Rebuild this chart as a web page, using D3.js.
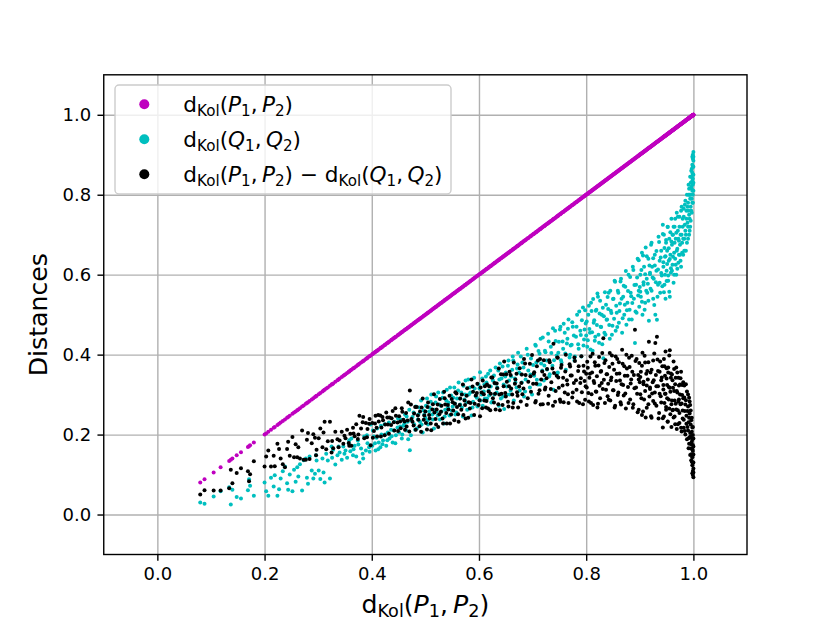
<!DOCTYPE html>
<html lang="en">
<head>
<meta charset="UTF-8">
<title>Distances</title>
<script src="https://d3js.org/d3.v7.min.js"></script>
<style>
body{ margin:0; background:#fff; }
svg text{ font-family:"DejaVu Sans", sans-serif; fill:#000; }
.axis path{ display:none; }
.axis line{ stroke:#000; stroke-width:1.4; }
.axis text{ font-size:18px; font-family:"DejaVu Sans", sans-serif; }
.grid line{ stroke:#b0b0b0; stroke-width:1.4; }
.grid path{ display:none; }
</style>
</head>
<body>
<script>
// x values: d_Kol(P1,P2) (the magenta series lies on y = x, so its y values are the same list)
var dKolP = [
  0.080,0.088,0.105,0.118,0.134,0.137,0.140,0.148,0.156,0.169,0.173,0.171,0.180,
  0.200,0.203,0.207,0.212,0.217,0.224,0.227,0.230,0.234,0.238,0.242,0.247,
  0.252,0.255,0.258,0.263,0.266,0.270,0.273,0.277,0.281,0.284,0.288,0.291,0.294,0.297,
  0.301,0.304,0.308,0.312,0.315,0.318,0.322,0.325,0.328,0.332,0.336,0.340,0.344,0.347,
  0.351,0.354,0.357,0.360,0.362,0.365,0.368,0.371,0.374,0.377,0.380,0.383,0.386,0.389,0.392,0.395,0.398,
  0.401,0.404,0.407,0.410,0.413,0.416,0.418,0.421,0.424,0.427,0.430,0.433,0.436,0.439,0.442,0.445,0.448,
  0.451,0.454,0.456,0.459,0.462,0.464,0.467,0.470,0.471,0.473,0.476,0.479,0.482,0.484,0.487,0.490,0.492,0.495,0.497,
  0.500,0.503,0.505,0.508,0.511,0.513,0.516,0.519,0.521,0.524,0.527,0.529,0.532,0.535,0.537,0.540,0.543,0.545,0.548,
  0.551,0.554,0.556,0.559,0.562,0.565,0.567,0.570,0.573,0.575,0.578,0.581,0.583,0.586,0.589,0.591,0.594,0.597,0.599,
  0.602,0.605,0.607,0.610,0.613,0.615,0.618,0.621,0.623,0.626,0.629,0.631,0.634,0.637,0.639,0.642,0.645,0.647,0.650,0.652,
  0.655,0.657,0.660,0.663,0.665,0.668,0.671,0.673,0.676,0.679,0.681,0.684,0.687,0.689,0.692,0.695,0.697,0.699,
  0.702,0.705,0.707,0.710,0.713,0.715,0.718,0.721,0.723,0.726,0.729,0.731,0.734,0.737,0.739,0.742,0.745,0.747,0.749,
  0.752,0.754,0.757,0.760,0.762,0.765,0.767,0.770,0.773,0.775,0.778,0.781,0.783,0.786,0.789,0.791,0.794,0.796,0.799,
  0.802,0.804,0.807,0.809,0.812,0.814,0.817,0.819,0.822,0.824,0.827,0.829,0.832,0.834,0.837,0.839,0.842,0.844,0.846,0.849,
  0.851,0.853,0.855,0.857,0.859,0.861,0.863,0.865,0.867,0.869,0.871,0.873,0.875,0.877,0.879,0.881,0.883,0.885,0.887,0.889,0.891,0.893,0.894,0.896,0.898,0.899,
  0.901,0.902,0.904,0.905,0.907,0.908,0.910,0.911,0.913,0.914,0.916,0.917,0.919,0.920,0.922,0.923,0.925,0.926,0.928,0.929,0.931,0.932,0.934,0.935,0.937,0.938,0.940,0.941,0.943,0.944,0.945,0.946,0.947,0.948,0.949,
  0.950,0.951,0.952,0.953,0.954,0.955,0.956,0.957,0.958,0.959,0.960,0.961,0.962,0.963,0.964,0.965,0.966,0.967,0.968,0.969,0.970,0.971,0.972,0.973,0.974,0.975,0.976,0.977,0.978,0.979,
  0.980,0.981,0.982,0.983,0.984,0.985,0.986,0.987,0.988,0.989,0.990,0.990,0.991,0.992,0.993,0.993,0.994,0.995,0.995,0.996,0.996,0.997,0.997,0.998,0.998,0.998,0.999,0.999,0.999,1.000,1.000,0.999,1.000,
  // second pass over the denser part of the cloud
  0.219,0.244,0.261,0.279,0.296,0.310,0.326,0.338,0.349,0.358,0.366,0.375,0.384,0.391,0.396,
  0.402,0.406,0.409,0.412,0.417,0.420,0.425,0.429,0.432,0.437,0.441,0.444,0.449,0.453,0.457,0.461,0.465,0.468,0.474,0.478,0.481,0.486,0.489,0.493,0.498,
  0.501,0.504,0.507,0.510,0.514,0.517,0.520,0.523,0.526,0.530,0.533,0.536,0.539,0.542,0.546,0.549,0.552,0.555,0.558,0.561,0.564,0.568,0.571,0.574,0.577,0.580,0.584,0.588,0.592,0.596,
  0.601,0.603,0.606,0.609,0.611,0.614,0.617,0.619,0.622,0.625,0.628,0.630,0.633,0.636,0.638,0.641,0.644,0.646,0.649,0.651,0.654,0.656,0.659,0.662,0.664,0.667,0.670,0.672,0.675,0.678,0.680,0.683,0.686,0.691,0.696,
  0.701,0.703,0.706,0.708,0.711,0.714,0.716,0.719,0.722,0.724,0.727,0.730,0.732,0.735,0.738,0.740,0.743,0.746,0.748,0.751,0.753,0.756,0.758,0.761,0.764,0.766,0.769,0.771,0.774,0.777,0.779,0.782,0.785,0.787,0.790,0.792,0.795,0.797,0.798,0.800,
  0.801,0.803,0.805,0.806,0.808,0.810,0.811,0.813,0.815,0.816,0.818,0.820,0.821,0.823,0.825,0.826,0.828,0.830,0.831,0.833,0.835,0.836,0.838,0.840,0.841,0.843,0.845,0.847,0.848,0.850,0.852,0.854,0.856,0.858,0.860,0.862,0.864,0.866,0.868,0.870,0.872,0.874,0.876,0.878,0.880,0.882,0.884,0.886,0.888,0.890,0.892,0.895,0.897,0.898,0.900,
  0.901,0.903,0.904,0.906,0.907,0.909,0.910,0.912,0.913,0.915,0.916,0.918,0.919,0.921,0.922,0.924,0.925,0.927,0.928,0.930,0.931,0.933,0.934,0.936,0.937,0.939,0.940,0.942,0.943,0.944,0.945,0.946,0.947,0.948,0.949,0.950,0.951,0.952,0.953,0.954,0.955,0.956,0.957,0.958,0.959,
  0.960,0.961,0.962,0.963,0.964,0.965,0.966,0.967,0.968,0.969,0.970,0.971,0.972,0.973,0.974,0.975,0.976,0.977,0.978,0.979,0.980,0.981,0.982,0.983,0.984,0.985,0.986,0.987,0.988,0.989,0.990,
  0.991,0.991,0.992,0.992,0.993,0.994,0.994,0.995,0.995,0.996,0.996,0.997,0.997,0.998,0.998,0.998,0.999,0.999,0.999,1.000,1.000,1.000,1.000,0.999
];

// cyan: d_Kol(Q1,Q2)
var dKolQ = [
  0.030,0.027,0.045,0.058,0.068,0.025,0.062,0.044,0.040,0.061,0.072,0.088,0.047,
  0.080,0.058,0.047,0.092,0.070,0.047,0.063,0.090,0.108,0.120,0.078,0.100,
  0.058,0.112,0.082,0.095,0.126,0.060,0.136,0.140,0.077,0.145,0.110,0.090,0.102,0.135,
  0.110,0.089,0.140,0.080,0.152,0.135,0.090,0.170,0.162,0.125,0.148,0.155,0.137,0.170,
  0.160,0.142,0.178,0.158,0.190,0.148,0.172,0.145,0.185,0.130,0.165,0.152,0.195,0.160,0.178,0.168,0.225,
  0.172,0.195,0.160,0.215,0.180,0.168,0.200,0.185,0.226,0.172,0.205,0.190,0.212,0.180,0.232,0.198,0.218,
  0.205,0.238,0.190,0.222,0.250,0.210,0.232,0.262,0.161,0.198,0.244,0.226,0.270,0.215,0.250,0.232,0.285,0.205,0.260,
  0.242,0.290,0.225,0.268,0.300,0.250,0.215,0.280,0.258,0.305,0.238,0.272,0.292,0.228,0.262,0.312,0.280,0.248,0.298,
  0.270,0.318,0.250,0.290,0.330,0.275,0.305,0.245,0.288,0.335,0.262,0.300,0.318,0.248,0.282,0.342,0.296,0.270,0.325,
  0.356,0.300,0.272,0.325,0.345,0.290,0.310,0.360,0.280,0.335,0.300,0.368,0.318,0.272,0.378,0.340,0.295,0.264,0.355,0.320,
  0.385,0.300,0.345,0.395,0.285,0.330,0.365,0.405,0.310,0.350,0.380,0.295,0.338,0.415,0.360,0.318,0.390,0.300,
  0.350,0.425,0.380,0.325,0.402,0.440,0.360,0.335,0.410,0.385,0.452,0.345,0.420,0.372,0.312,0.460,0.398,0.355,0.432,
  0.470,0.380,0.415,0.455,0.362,0.440,0.488,0.400,0.425,0.470,0.385,0.445,0.500,0.415,0.460,0.395,0.518,0.438,0.478,
  0.420,0.500,0.455,0.530,0.410,0.480,0.445,0.512,0.545,0.430,0.470,0.500,0.391,0.455,0.525,0.488,0.555,0.440,0.510,0.472,
  0.540,0.585,0.460,0.505,0.560,0.480,0.528,0.590,0.455,0.545,0.500,0.570,0.475,0.530,0.600,0.512,0.555,0.488,0.620,0.540,0.429,0.575,0.505,0.640,0.560,0.520,
  0.600,0.545,0.655,0.500,0.575,0.620,0.530,0.668,0.590,0.555,0.640,0.485,0.605,0.565,0.680,0.620,0.540,0.590,0.650,0.500,0.610,0.487,0.575,0.695,0.635,0.555,0.660,0.598,0.725,0.620,0.700,0.575,0.645,0.540,0.680,
  0.610,0.660,0.720,0.585,0.635,0.690,0.545,0.650,0.605,0.740,0.675,0.625,0.700,0.580,0.655,0.720,0.640,0.690,0.600,0.755,0.665,0.710,0.630,0.685,0.745,0.650,0.700,0.620,0.770,0.680,
  0.720,0.650,0.745,0.690,0.775,0.710,0.660,0.760,0.800,0.730,0.690,0.780,0.825,0.750,0.710,0.800,0.845,0.770,0.735,0.820,0.860,0.790,0.755,0.875,0.835,0.810,0.890,0.850,0.780,0.907,0.870,0.900,0.830,
  // second pass
  0.098,0.062,0.118,0.092,0.148,0.105,0.142,0.170,0.152,0.186,0.163,0.175,0.140,0.198,0.157,
  0.210,0.178,0.192,0.163,0.222,0.176,0.200,0.186,0.230,0.196,0.210,0.178,0.240,0.220,0.200,0.228,0.245,0.188,0.235,0.255,0.212,0.238,0.268,0.225,0.250,
  0.272,0.235,0.258,0.282,0.238,0.262,0.295,0.248,0.275,0.258,0.305,0.245,0.285,0.268,0.318,0.260,0.292,0.278,0.255,0.310,0.290,0.268,0.322,0.300,0.280,0.338,0.305,0.268,0.315,0.292,
  0.315,0.285,0.340,0.308,0.290,0.330,0.352,0.298,0.320,0.282,0.348,0.328,0.305,0.360,0.338,0.290,0.370,0.325,0.345,0.300,0.372,0.335,0.310,0.362,0.385,0.340,0.318,0.375,0.355,0.395,0.330,0.368,0.308,0.400,0.350,
  0.374,0.347,0.422,0.337,0.409,0.325,0.378,0.443,0.373,0.406,0.363,0.433,0.351,0.404,0.466,0.386,0.434,0.353,0.405,0.463,0.386,0.433,0.477,0.403,0.428,0.465,0.393,0.423,0.481,0.448,0.395,0.470,0.426,0.508,0.449,0.486,0.423,0.463,0.511,0.448,
  0.483,0.436,0.522,0.464,0.413,0.509,0.456,0.539,0.486,0.435,0.510,0.474,0.553,0.450,0.503,0.535,0.469,0.426,0.517,0.496,0.556,0.450,0.487,0.544,0.514,0.474,0.560,0.504,0.450,0.539,0.490,0.582,0.522,0.469,0.555,0.509,0.583,0.540,0.491,0.572,0.525,0.609,0.511,0.559,0.488,0.594,0.546,0.529,0.612,0.574,0.508,0.593,0.548,0.636,0.569,
  0.557,0.612,0.532,0.648,0.581,0.512,0.601,0.560,0.646,0.577,0.535,0.623,0.601,0.675,0.560,0.593,0.641,0.524,0.623,0.581,0.659,0.545,0.613,0.682,0.580,0.643,0.604,0.571,0.702,0.631,0.556,0.667,0.600,0.646,0.687,0.584,0.627,0.719,0.598,0.666,0.557,0.639,0.706,0.616,0.683,
  0.610,0.700,0.645,0.720,0.600,0.680,0.740,0.625,0.705,0.660,0.615,0.745,0.690,0.650,0.720,0.675,0.635,0.760,0.700,0.655,0.740,0.690,0.765,0.660,0.725,0.785,0.700,0.740,0.680,0.770,0.720,
  0.800,0.760,0.700,0.815,0.740,0.790,0.720,0.830,0.800,0.760,0.845,0.815,0.865,0.780,0.855,0.895,0.825,0.870,0.800,0.885,0.850,0.895,0.810,0.840
];

// black: d_Kol(P1,P2) - d_Kol(Q1,Q2)
var dKolDiff = [
  0.050,0.061,0.060,0.060,0.066,0.112,0.078,0.104,0.116,0.108,0.101,0.083,0.133,
  0.120,0.145,0.160,0.120,0.147,0.177,0.164,0.140,0.126,0.118,0.164,0.147,
  0.194,0.143,0.176,0.168,0.140,0.210,0.137,0.137,0.204,0.139,0.178,0.201,0.192,0.162,
  0.191,0.215,0.168,0.232,0.163,0.183,0.232,0.155,0.166,0.207,0.188,0.185,0.207,0.177,
  0.191,0.212,0.179,0.202,0.172,0.217,0.196,0.226,0.189,0.247,0.215,0.231,0.191,0.229,0.214,0.227,0.173,
  0.229,0.209,0.247,0.195,0.233,0.248,0.218,0.236,0.198,0.255,0.225,0.243,0.224,0.259,0.210,0.247,0.230,
  0.246,0.216,0.266,0.237,0.212,0.254,0.235,0.208,0.310,0.275,0.232,0.253,0.212,0.269,0.237,0.258,0.207,0.290,0.237,
  0.258,0.213,0.280,0.240,0.211,0.263,0.301,0.239,0.263,0.219,0.289,0.257,0.240,0.307,0.275,0.228,0.263,0.297,0.250,
  0.281,0.236,0.306,0.269,0.232,0.290,0.262,0.325,0.285,0.240,0.316,0.281,0.265,0.338,0.307,0.249,0.298,0.327,0.274,
  0.246,0.305,0.335,0.285,0.268,0.325,0.308,0.261,0.343,0.291,0.329,0.263,0.316,0.365,0.261,0.302,0.350,0.383,0.295,0.332,
  0.270,0.357,0.315,0.268,0.380,0.338,0.306,0.268,0.366,0.329,0.301,0.389,0.349,0.274,0.332,0.377,0.307,0.399,
  0.352,0.280,0.327,0.385,0.311,0.275,0.358,0.386,0.313,0.341,0.277,0.386,0.314,0.365,0.427,0.282,0.347,0.392,0.317,
  0.282,0.374,0.342,0.305,0.400,0.325,0.279,0.370,0.348,0.305,0.393,0.336,0.283,0.371,0.329,0.396,0.276,0.358,0.321,
  0.382,0.304,0.352,0.279,0.402,0.334,0.372,0.307,0.277,0.394,0.357,0.329,0.441,0.379,0.312,0.351,0.287,0.404,0.336,0.377,
  0.311,0.268,0.395,0.352,0.299,0.381,0.335,0.275,0.412,0.324,0.371,0.303,0.400,0.347,0.279,0.369,0.328,0.397,0.267,0.349,0.462,0.318,0.389,0.256,0.338,0.379,
  0.301,0.357,0.249,0.405,0.332,0.288,0.380,0.243,0.323,0.359,0.276,0.432,0.314,0.355,0.242,0.303,0.385,0.336,0.278,0.429,0.321,0.445,0.359,0.240,0.302,0.383,0.280,0.343,0.218,0.324,0.245,0.371,0.302,0.408,0.269,
  0.340,0.291,0.232,0.368,0.319,0.265,0.411,0.307,0.353,0.219,0.285,0.336,0.262,0.383,0.309,0.245,0.326,0.277,0.368,0.214,0.305,0.261,0.342,0.288,0.229,0.325,0.276,0.357,0.208,0.299,
  0.260,0.331,0.237,0.293,0.209,0.275,0.326,0.227,0.188,0.259,0.300,0.210,0.166,0.242,0.283,0.193,0.149,0.225,0.260,0.176,0.136,0.207,0.242,0.123,0.163,0.188,0.109,0.149,0.219,0.093,0.130,0.099,0.170,
  // second pass
  0.121,0.182,0.143,0.187,0.148,0.205,0.184,0.168,0.197,0.172,0.203,0.200,0.244,0.193,0.239,
  0.192,0.228,0.217,0.249,0.195,0.244,0.225,0.243,0.202,0.241,0.231,0.266,0.209,0.233,0.257,0.233,0.220,0.280,0.239,0.223,0.269,0.248,0.221,0.268,0.248,
  0.229,0.269,0.249,0.228,0.276,0.255,0.225,0.275,0.251,0.272,0.228,0.291,0.254,0.274,0.228,0.289,0.260,0.277,0.303,0.251,0.274,0.300,0.249,0.274,0.297,0.242,0.279,0.320,0.277,0.304,
  0.286,0.318,0.266,0.301,0.321,0.284,0.265,0.321,0.302,0.343,0.280,0.302,0.328,0.276,0.300,0.351,0.274,0.321,0.304,0.351,0.282,0.321,0.349,0.300,0.279,0.327,0.352,0.297,0.320,0.283,0.350,0.315,0.378,0.291,0.346,
  0.327,0.356,0.284,0.371,0.302,0.389,0.338,0.276,0.349,0.318,0.364,0.297,0.381,0.331,0.272,0.354,0.309,0.393,0.343,0.288,0.367,0.323,0.281,0.358,0.336,0.301,0.376,0.348,0.293,0.329,0.384,0.312,0.359,0.279,0.341,0.306,0.372,0.334,0.287,0.352,
  0.318,0.367,0.283,0.342,0.395,0.301,0.355,0.274,0.329,0.381,0.308,0.346,0.268,0.373,0.322,0.291,0.359,0.404,0.314,0.337,0.279,0.386,0.351,0.296,0.327,0.369,0.285,0.343,0.398,0.311,0.362,0.272,0.334,0.389,0.305,0.353,0.281,0.326,0.377,0.298,0.347,0.265,0.365,0.319,0.392,0.288,0.338,0.357,0.276,0.316,0.384,0.302,0.349,0.262,0.331,
  0.344,0.291,0.372,0.258,0.326,0.397,0.309,0.352,0.267,0.338,0.381,0.295,0.318,0.246,0.362,0.331,0.284,0.403,0.305,0.349,0.272,0.388,0.321,0.254,0.357,0.296,0.336,0.371,0.241,0.313,0.389,0.279,0.347,0.302,0.262,0.366,0.324,0.233,0.355,0.288,0.398,0.317,0.251,0.342,0.276,
  0.350,0.261,0.317,0.243,0.364,0.285,0.226,0.342,0.263,0.309,0.355,0.226,0.282,0.323,0.254,0.300,0.341,0.217,0.278,0.324,0.240,0.291,0.217,0.323,0.259,0.200,0.286,0.247,0.308,0.219,0.270,
  0.191,0.231,0.292,0.177,0.253,0.204,0.274,0.165,0.195,0.236,0.151,0.182,0.132,0.218,0.143,0.103,0.174,0.129,0.199,0.115,0.150,0.105,0.190,0.159
];

var xTicks = [0.0, 0.2, 0.4, 0.6, 0.8, 1.0];
var yTicks = [0.0, 0.2, 0.4, 0.6, 0.8, 1.0];

var width = 830;
var height = 623;
var mLeft = 103.75, mRight = 747, mTop = 74.8, mBottom = 554.5;
var tickLen = 6.3;

var svg = d3.select("body")
    .append("svg")
    .attr("width", width)
    .attr("height", height);

// scales
var xScale = d3.scaleLinear().domain([-0.1, 1.1]).range([mLeft, mRight]);
var yScale = d3.scaleLinear().domain([-0.1, 1.1]).range([mBottom, mTop]);

// grid
svg.append("g")
    .attr("class", "grid")
    .attr("transform", "translate(0," + mBottom + ")")
    .call(d3.axisBottom(xScale).tickValues(xTicks).tickSize(-(mBottom - mTop)).tickFormat(""));
svg.append("g")
    .attr("class", "grid")
    .attr("transform", "translate(" + mLeft + ",0)")
    .call(d3.axisLeft(yScale).tickValues(yTicks).tickSize(-(mRight - mLeft)).tickFormat(""));

// scatter series, same order as the legend
var r = 2;
function scatter(xs, ys, color) {
    svg.append("g")
        .selectAll("circle")
        .data(xs)
        .enter()
        .append("circle")
        .attr("cx", function(d) { return xScale(d); })
        .attr("cy", function(d, i) { return yScale(ys[i]); })
        .attr("r", r)
        .attr("fill", color);
}
scatter(dKolP, dKolP, "#bf00bf");
scatter(dKolP, dKolQ, "#00bfbf");
scatter(dKolP, dKolDiff, "#000000");

// axes
svg.append("g")
    .attr("class", "axis")
    .attr("transform", "translate(0," + mBottom + ")")
    .call(d3.axisBottom(xScale).tickValues(xTicks).tickFormat(d3.format(".1f"))
        .tickSize(tickLen).tickPadding(6.3));
svg.append("g")
    .attr("class", "axis")
    .attr("transform", "translate(" + mLeft + ",0)")
    .call(d3.axisLeft(yScale).tickValues(yTicks).tickFormat(d3.format(".1f"))
        .tickSize(tickLen).tickPadding(6.3));

// frame
svg.append("rect")
    .attr("x", mLeft).attr("y", mTop)
    .attr("width", mRight - mLeft).attr("height", mBottom - mTop)
    .attr("fill", "none").attr("stroke", "#000").attr("stroke-width", 1.4);

// mathtext-like label: [text, "r" roman | "i" italic | "s" subscript]
function mathText(sel, parts, fs) {
    var shift = 0;
    parts.forEach(function(p) {
        var t = sel.append("tspan").text(p[0]);
        var target = p[1] === "s" ? fs * 0.17 : 0;
        if (target !== shift) { t.attr("dy", target - shift); shift = target; }
        t.style("font-size", (p[1] === "s" ? fs * 0.7 : fs) + "px");
        if (p[1] === "i") t.style("font-style", "italic");
    });
}
var labP = [["d","r"],["Kol","s"],["(","r"],["P","i"],["1","s"],[",\u2009","r"],["P","i"],["2","s"],[")","r"]];
var labQ = [["d","r"],["Kol","s"],["(","r"],["Q","i"],["1","s"],[",\u2009","r"],["Q","i"],["2","s"],[")","r"]];
var labD = labP.concat([[" \u2212 ","r"]]).concat(labQ);

// axis labels
mathText(svg.append("text")
    .attr("x", (mLeft + mRight) / 2).attr("y", 613)
    .attr("text-anchor", "middle"), labP, 25.2);

svg.append("text")
    .attr("transform", "translate(46.5," + ((mTop + mBottom) / 2) + ") rotate(-90)")
    .attr("text-anchor", "middle")
    .style("font-size", "25.2px")
    .text("Distances");

// legend
var legend = svg.append("g");
legend.append("rect")
    .attr("x", 115).attr("y", 85).attr("width", 336).attr("height", 109)
    .attr("rx", 4).attr("ry", 4)
    .attr("fill", "#fff").attr("fill-opacity", 0.8)
    .attr("stroke", "#cccccc").attr("stroke-width", 1.4);

var legendItems = [
    { color: "#bf00bf", label: labP },
    { color: "#00bfbf", label: labQ },
    { color: "#000000", label: labD }
];
legendItems.forEach(function(item, i) {
    var cy = 104.3 + i * 35;
    legend.append("circle")
        .attr("cx", 144.3).attr("cy", cy).attr("r", 5)
        .attr("fill", item.color);
    mathText(legend.append("text").attr("x", 183.3).attr("y", cy + 8), item.label, 21.6);
});
</script>
</body>
</html>
